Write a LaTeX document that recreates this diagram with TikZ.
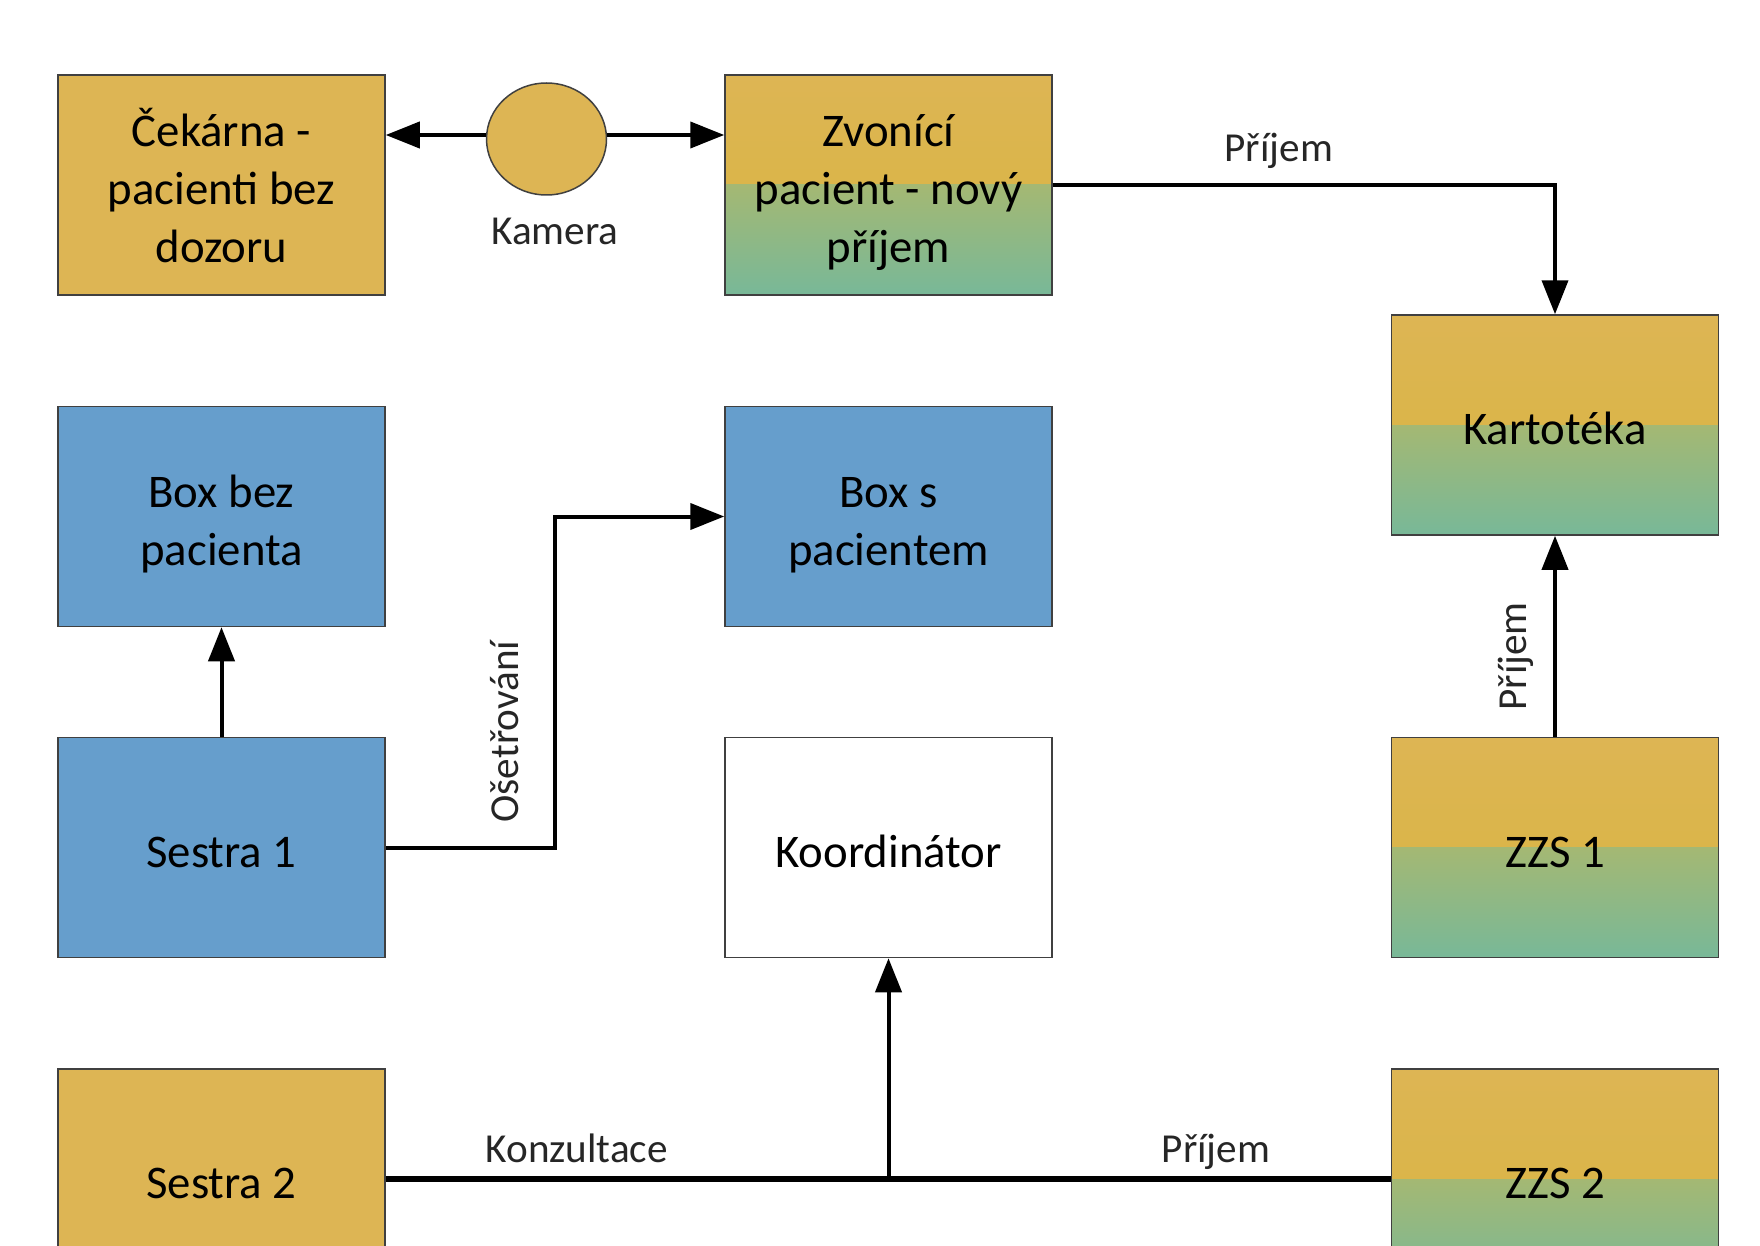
\documentclass[tikz,border=0pt]{standalone}
\usepackage{fontspec}
\setmainfont{Carlito}
\usetikzlibrary{arrows.meta,shapes.geometric}
\definecolor{goldA}{RGB}{221,181,84}
\definecolor{goldB}{RGB}{216,180,64}
\definecolor{greenA}{RGB}{164,184,115}
\definecolor{greenB}{RGB}{120,184,152}
\definecolor{boxblue}{RGB}{102,158,204}
\definecolor{edge}{RGB}{64,64,64}
\newcommand{\boxstrut}{\rule{0pt}{1.1em}}

\begin{document}
\begin{tikzpicture}[x=0.5pt, y=-0.5pt, >={Triangle[length=17pt,width=13pt]},
  b/.style={draw=edge, line width=0.75pt, align=center, inner sep=0pt,
    minimum width=163.5pt, minimum height=110pt,
    font=\fontsize{23.4}{29}\selectfont,
    execute at begin node=\boxstrut,
    execute at end node=\rule[-0.25em]{0pt}{0pt}},
  gold/.style={b, fill=goldA},
  blue/.style={b, fill=boxblue},
  mixed/.style={b, path picture={
    \shade[top color=goldA, bottom color=goldB]
      (path picture bounding box.north west) rectangle (path picture bounding box.east);
    \shade[top color=greenA, bottom color=greenB]
      (path picture bounding box.west) rectangle (path picture bounding box.south east);}},
  lbl/.style={font=\fontsize{20.6}{25}\selectfont, text=black!85,
    text height=0.7em, text depth=0.2em},
  conn/.style={line width=2pt}]
  \useasboundingbox (0,0) rectangle (1760,1246);
  \clip (0,0) rectangle (1760,1246);
  % top row
  \node[gold]  (cek)   at (221.5,185)  {\boxstrut Čekárna -\\pacienti bez\\dozoru};
  \node[draw=edge, line width=0.75pt, fill=goldA, ellipse, inner sep=0pt,
    minimum width=60pt, minimum height=56pt] (kam) at (546.5,139) {};
  \node[lbl]   (kaml)  at (555,239)    {Kamera};
  \node[mixed] (zvon)  at (888.5,185)  {\boxstrut Zvonící\\pacient - nový\\příjem};
  \node[mixed] (kart)  at (1555,425)   {Kartotéka};
  % boxes
  \node[blue]  (bez)   at (221.5,516.5) {\boxstrut Box bez\\pacienta};
  \node[blue]  (boxs)  at (888.5,516.5) {\boxstrut Box s\\pacientem};
  \node[blue]  (ses1)  at (221.5,847.5) {Sestra 1};
  \node[b]     (koord) at (888.5,847.5) {Koordinátor};
  \node[mixed] (zzs1)  at (1555,847.5)  {ZZS 1};
  \node[gold]  (ses2)  at (221.5,1179)  {Sestra 2};
  \node[mixed] (zzs2)  at (1555,1179)   {ZZS 2};
  % connectors
  \draw[conn,->] ([yshift=2pt]kam.west) -- ([yshift=2pt]kam.west -| cek.east);
  \draw[conn,->] ([yshift=2pt]kam.east) -- ([yshift=2pt]kam.east -| zvon.west);
  \draw[conn,->] (zvon.east) -- (zvon.east -| kart.north)
    node[pos=0.45,above=5.5pt,lbl] {Příjem} -- (kart.north);
  \draw[conn,->] (zzs1.north) -- (kart.south)
    node[pos=0.4,sloped,above=8pt,lbl] {Příjem};
  \draw[conn,->] (ses1.north) -- (bez.south);
  \draw[conn,->] (ses1.east) -- ++(169,0) -- ++(0,-331)
    node[pos=0.35,sloped,above=12pt,lbl] {Ošetřování} -- (boxs.west);
  \draw[line width=3pt] (ses2.east) -- (zzs2.west)
    node[pos=0.19,above=1.3pt,lbl] {Konzultace}
    node[pos=0.826,above=1.3pt,lbl] {Příjem};
  \draw[conn,->] (koord.south |- ses2.east) -- (koord.south);
\end{tikzpicture}
\end{document}
